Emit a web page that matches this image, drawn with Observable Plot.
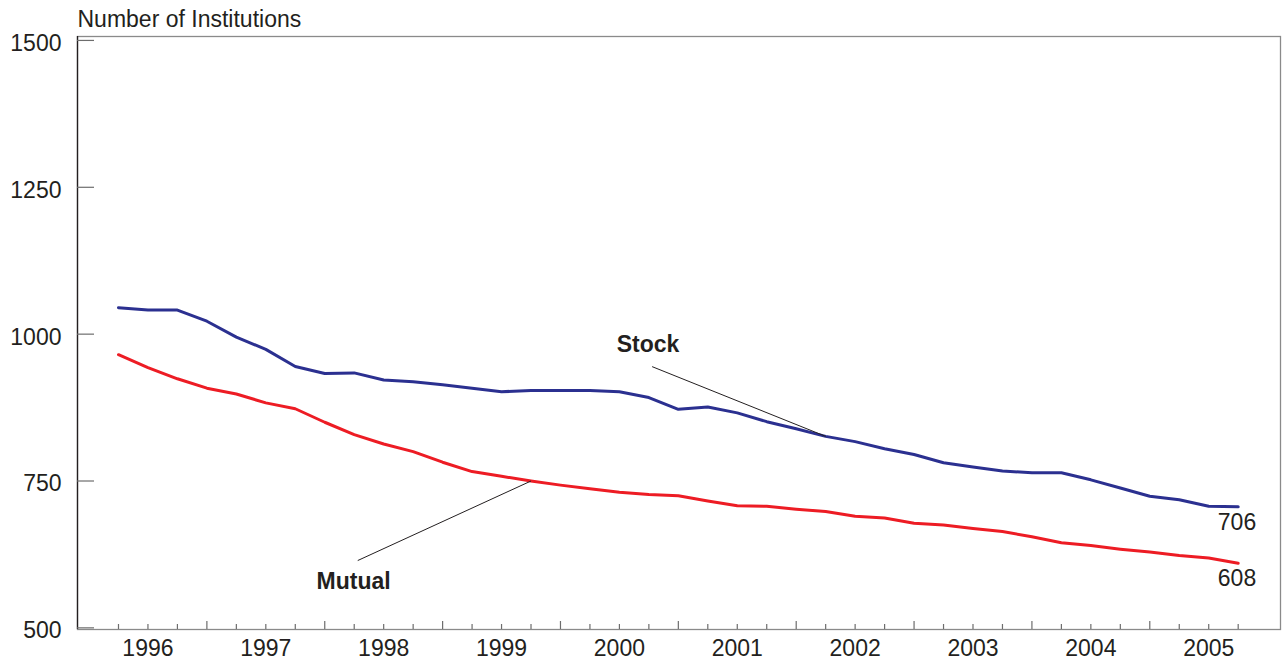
<!DOCTYPE html>
<html>
<head>
<meta charset="utf-8">
<script src="https://cdn.jsdelivr.net/npm/d3@7"></script>
<script src="https://cdn.jsdelivr.net/npm/@observablehq/plot@0.6"></script>
<style>
  html, body { margin: 0; padding: 0; background: #fff; }
  #chart svg { display: block; }
</style>
</head>
<body>
<div id="chart"></div>
<script>
// Quarterly counts, 1996Q1 .. 2005Q3 (index 0..38)
const years = ["1996","1997","1998","1999","2000","2001","2002","2003","2004","2005"];
const stock = [1045,1041,1041,1022,995,974,945,933,934,922,919,914,908,902,904,904,904,902,892,872,876,866,851,839,826,817,805,795,781,774,767,764,764,752,738,724,718,707,706];
const mutual = [965,943,924,908,898,883,873,850,829,813,800,782,766,758,750,743,737,731,727,725,716,708,707,702,698,690,687,678,675,669,664,655,645,640,634,629,623,619,610];
const yTicks = [500, 750, 1000, 1250, 1500];
const endLabels = ["706", "608"];

const W = 1287, H = 661;
const mL = 77, mR = 7, mT = 36, mB = 32;
const xDomain = [-1.391, 39.436];
const yDomain = [497.2, 1506.7];
const plotW = W - mL - mR, plotH = H - mT - mB;

const qIdx = stock.map((_, i) => i);
const majorIdx = qIdx.filter(i => i % 4 === 3);
const minorIdx = qIdx.filter(i => i % 4 !== 3);
const yearPos = years.map((y, k) => ({label: y, i: 1 + 4 * k}));

const rows = [];
stock.forEach((v, i) => rows.push({i, v, s: "Stock"}));
mutual.forEach((v, i) => rows.push({i, v, s: "Mutual"}));

const last = stock.length - 1;

const chart = Plot.plot({
  width: W, height: H,
  marginLeft: mL, marginRight: mR, marginTop: mT, marginBottom: mB,
  x: {domain: xDomain, axis: null},
  y: {domain: yDomain, axis: null},
  color: {domain: ["Stock", "Mutual"], range: ["#2b3090", "#ed1c24"]},
  style: {fontFamily: "'Liberation Sans', Arial, Helvetica, sans-serif", fontSize: "23px", background: "#fff", color: "#231f20"},
  marks: [
    Plot.frame({stroke: "#8a8a8a", strokeWidth: 1.3}),
    Plot.ruleX([xDomain[0]], {stroke: "#231f20", strokeWidth: 1.3}),
    // y ticks (inward)
    Plot.ruleY(yTicks, {y: d => d, stroke: "#6d6d6d", strokeWidth: 1.2, insetRight: plotW - 17}),
    // y tick labels
    Plot.text(yTicks, {y: d => d, text: d => String(d), frameAnchor: "left", textAnchor: "end", dx: -16, dy: 3, fill: "#231f20", fontSize: 23}),
    // x ticks (inward)
    Plot.ruleX(minorIdx, {x: d => d, stroke: "#6d6d6d", strokeWidth: 1.2, insetTop: plotH - 5}),
    Plot.ruleX(majorIdx, {x: d => d, stroke: "#6d6d6d", strokeWidth: 1.2, insetTop: plotH - 8}),
    // x labels
    Plot.text(yearPos, {x: "i", text: "label", frameAnchor: "bottom", lineAnchor: "bottom", dy: 26, fill: "#231f20", fontSize: 23}),
    // title
    Plot.text(["Number of Institutions"], {frameAnchor: "top-left", textAnchor: "start", lineAnchor: "bottom", dy: -9.3, fill: "#231f20", fontSize: 23}),
    // series
    Plot.line(rows, {x: "i", y: "v", z: "s", stroke: "s", strokeWidth: 3, strokeLinejoin: "round"}),
    // leader lines
    Plot.link([{x1: 18.11, y1: 944.7, x2: 24, y2: stock[24]}, {x1: 8.12, y1: 614.6, x2: 14, y2: mutual[14]}],
      {x1: "x1", y1: "y1", x2: "x2", y2: "y2", stroke: "#231f20", strokeWidth: 1}),
    // series labels
    Plot.text([{x: 17.97, y: 969, t: "Stock"}, {x: 7.98, y: 565.3, t: "Mutual"}],
      {x: "x", y: "y", text: "t", lineAnchor: "bottom", fontWeight: "bold", fontSize: 23, fill: "#231f20"}),
    // end values
    Plot.text([{x: 37.96, y: 666.8, t: endLabels[0]}, {x: 37.96, y: 571.6, t: endLabels[1]}],
      {x: "x", y: "y", text: "t", lineAnchor: "bottom", fontSize: 23, fill: "#231f20"})
  ]
});
document.getElementById("chart").appendChild(chart);
</script>
</body>
</html>
